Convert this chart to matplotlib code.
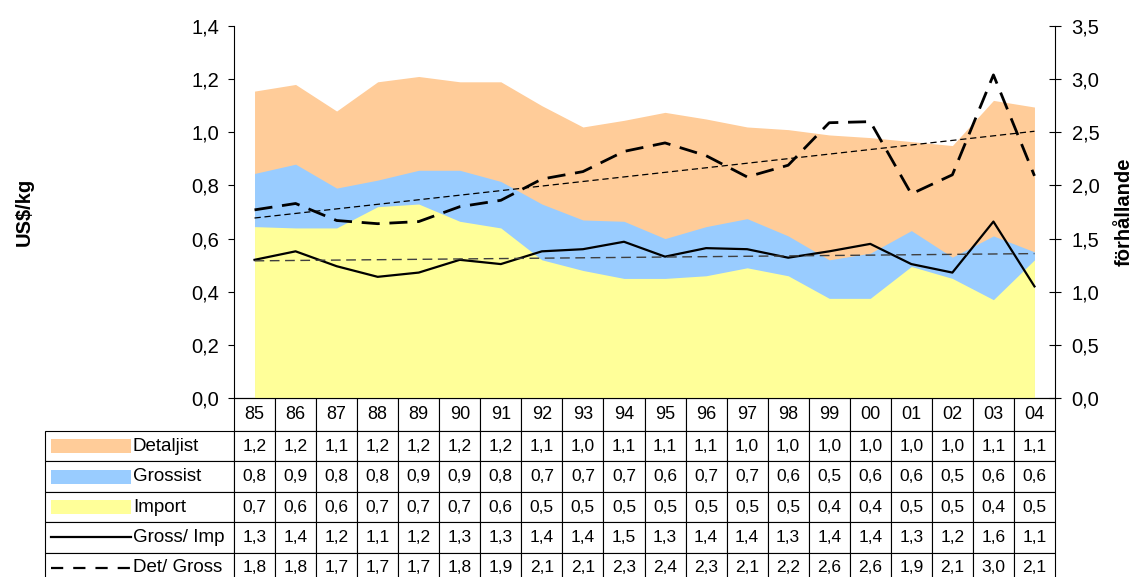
import numpy as np
import matplotlib.pyplot as plt
from matplotlib.table import Table
from matplotlib.patches import Rectangle
from matplotlib.lines import Line2D

plt.rcParams['font.family'] = ['Liberation Sans', 'DejaVu Sans']

# years (columns)
years = ['85', '86', '87', '88', '89', '90', '91', '92', '93', '94',
         '95', '96', '97', '98', '99', '00', '01', '02', '03', '04']

# prices US$/kg (left axis)
detaljist = [1.155, 1.18, 1.08, 1.19, 1.21, 1.19, 1.19, 1.10, 1.02, 1.045,
             1.075, 1.05, 1.02, 1.01, 0.99, 0.98, 0.965, 0.95, 1.12, 1.095]
grossist = [0.845, 0.88, 0.79, 0.82, 0.857, 0.857, 0.815, 0.73, 0.67, 0.665,
            0.60, 0.645, 0.675, 0.61, 0.52, 0.545, 0.63, 0.53, 0.61, 0.55]
importpris = [0.645, 0.64, 0.64, 0.72, 0.73, 0.665, 0.64, 0.52, 0.48, 0.45,
              0.45, 0.46, 0.49, 0.46, 0.375, 0.375, 0.495, 0.45, 0.37, 0.52]

# ratios (right axis)
gross_imp = [1.30, 1.38, 1.24, 1.14, 1.18, 1.30, 1.26, 1.38, 1.40, 1.47,
             1.33, 1.41, 1.40, 1.32, 1.38, 1.45, 1.26, 1.18, 1.66, 1.05]
det_gross = [1.77, 1.83, 1.67, 1.64, 1.66, 1.80, 1.86, 2.06, 2.13, 2.32,
             2.40, 2.28, 2.08, 2.19, 2.59, 2.60, 1.92, 2.10, 3.04, 2.09]

# values as printed in the table
tab_det = ['1,2', '1,2', '1,1', '1,2', '1,2', '1,2', '1,2', '1,1', '1,0', '1,1',
           '1,1', '1,1', '1,0', '1,0', '1,0', '1,0', '1,0', '1,0', '1,1', '1,1']
tab_gross = ['0,8', '0,9', '0,8', '0,8', '0,9', '0,9', '0,8', '0,7', '0,7', '0,7',
             '0,6', '0,7', '0,7', '0,6', '0,5', '0,6', '0,6', '0,5', '0,6', '0,6']
tab_imp = ['0,7', '0,6', '0,6', '0,7', '0,7', '0,7', '0,6', '0,5', '0,5', '0,5',
           '0,5', '0,5', '0,5', '0,5', '0,4', '0,4', '0,5', '0,5', '0,4', '0,5']
tab_gi = ['1,3', '1,4', '1,2', '1,1', '1,2', '1,3', '1,3', '1,4', '1,4', '1,5',
          '1,3', '1,4', '1,4', '1,3', '1,4', '1,4', '1,3', '1,2', '1,6', '1,1']
tab_dg = ['1,8', '1,8', '1,7', '1,7', '1,7', '1,8', '1,9', '2,1', '2,1', '2,3',
          '2,4', '2,3', '2,1', '2,2', '2,6', '2,6', '1,9', '2,1', '3,0', '2,1']

c_det = '#FFCC99'
c_gross = '#99CCFF'
c_imp = '#FFFF99'

W, H = 1137, 577
fig = plt.figure(figsize=(W / 100, H / 100), dpi=100)
ax_l, ax_r, ax_t, ax_b = 234, 1055, 26, 398
ax = fig.add_axes([ax_l / W, 1 - ax_b / H, (ax_r - ax_l) / W, (ax_b - ax_t) / H])
aw, ah = ax_r - ax_l, ax_b - ax_t

def px(xp, yp):
    # figure pixels -> axes fraction
    return (xp - ax_l) / aw, (ax_b - yp) / ah

x = np.arange(len(years))
ax.fill_between(x, detaljist, color=c_det, lw=0)
ax.fill_between(x, grossist, color=c_gross, lw=0)
ax.fill_between(x, importpris, color=c_imp, lw=0)
ax.set_xlim(-0.5, len(years) - 0.5)
ax.set_ylim(0, 1.4)
lt = np.round(np.arange(0, 1.41, 0.2), 1)
ax.set_yticks(lt)
ax.set_yticklabels([f'{v:.1f}'.replace('.', ',') for v in lt])
ax.set_xticks([])
ax.tick_params(axis='y', labelsize=14.5, length=4.3, width=0.8, pad=6.5)
ax.spines['top'].set_visible(False)
ax.spines['right'].set_visible(False)
ax.spines['left'].set_linewidth(0.8)
ax.spines['bottom'].set_linewidth(0.8)
ax.set_ylabel('US$/kg', fontsize=14.5, fontweight='bold')
ax.yaxis.set_label_coords(px(34, 0)[0], 0.5)

ax2 = ax.twinx()
ax2.plot(x, gross_imp, color='black', lw=1.6)
ax2.plot(x, det_gross, color='black', lw=2, dashes=(6.5, 3.5))
# linear trends
p1 = np.polyfit(x, gross_imp, 1)
p2 = np.polyfit(x, det_gross, 1)
ax2.plot(x, np.polyval(p1, x), color='#404040', lw=1, dashes=(7, 4))
ax2.plot(x, np.polyval(p2, x), color='black', lw=0.9, dashes=(5, 3))
ax2.set_ylim(0, 3.5)
rt = np.round(np.arange(0, 3.51, 0.5), 1)
ax2.set_yticks(rt)
ax2.set_yticklabels([f'{v:.1f}'.replace('.', ',') for v in rt])
ax2.tick_params(axis='y', labelsize=14.5, length=8, width=0.8, direction='inout', pad=8)
for s in ['top', 'left', 'bottom']:
    ax2.spines[s].set_visible(False)
ax2.spines['right'].set_linewidth(0.8)
ax2.set_ylabel('förhållande', fontsize=14.5, fontweight='bold')
ax2.yaxis.set_label_coords(px(1115, 0)[0], 0.5)

# data table under the plot
lab_w = ax_l - 45
col_w = aw / len(years)
hdr_h = 33
row_h = 30.4
tot_h = hdr_h + 5 * row_h
tab = Table(ax, bbox=[-lab_w / aw, -tot_h / ah, 1 + lab_w / aw, tot_h / ah])
for j, yr in enumerate(years):
    tab.add_cell(0, j + 1, width=col_w, height=hdr_h, text=yr, loc='center')
rows = [tab_det, tab_gross, tab_imp, tab_gi, tab_dg]
for i, vals in enumerate(rows):
    tab.add_cell(i + 1, 0, width=lab_w, height=row_h, text='')
    for j, v in enumerate(vals):
        tab.add_cell(i + 1, j + 1, width=col_w, height=row_h, text=v, loc='center')
tab.auto_set_font_size(False)
tab.set_fontsize(12.5)
for (r, c), cell in tab.get_celld().items():
    cell.set_linewidth(0.8)
    cell.set_edgecolor('black')
    if r == 0:
        cell.get_text().set_fontsize(13)
ax.add_table(tab)

# legend keys inside the label column
labels = ['Detaljist', 'Grossist', 'Import', 'Gross/ Imp', 'Det/ Gross']
for i, lab in enumerate(labels):
    yc = ax_b + hdr_h + row_h * (i + 0.5)
    x0, y0 = px(51, yc)
    x1, _ = px(131, yc)
    if i < 3:
        col = [c_det, c_gross, c_imp][i]
        ax.add_patch(Rectangle((x0, y0 - 7 / ah), x1 - x0, 14 / ah,
                               transform=ax.transAxes, color=col, lw=0, clip_on=False))
    else:
        ln = Line2D([x0, x1], [y0, y0], transform=ax.transAxes, color='black',
                    lw=1.6, clip_on=False)
        if i == 4:
            ln.set_dashes((5.5, 4.5))
        ax.add_line(ln)
    tx, _ = px(133, yc)
    ax.text(tx, y0, lab, transform=ax.transAxes, fontsize=13.5, va='center', ha='left')

fig.savefig('out.png', dpi=100)
